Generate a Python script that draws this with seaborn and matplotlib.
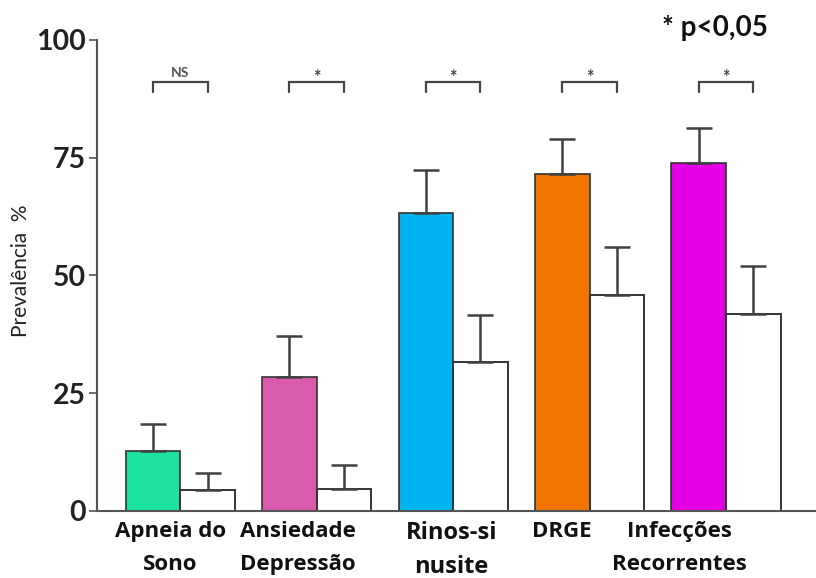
import pandas as pd
import matplotlib.pyplot as plt
import seaborn as sns
from matplotlib.transforms import ScaledTranslation

# dados (prevalência %)
categorias = ['Apneia do\nSono', 'Ansiedade\nDepressão', 'Rinos-si\nnusite', 'DRGE', 'Infecções\nRecorrentes']
grupos = ['Doentes', 'Controles']
prev_doentes = [12.8, 28.5, 63.2, 71.5, 73.9]
prev_controles = [4.5, 4.7, 31.6, 45.9, 41.8]
erro_doentes = [5.6, 8.7, 9.2, 7.4, 7.3]
erro_controles = [3.6, 5.0, 10.0, 10.2, 10.2]
significancia = ['NS', '*', '*', '*', '*']
cores = ['#1ee3a0', '#da5aae', '#00b4f0', '#f07400', '#e400e4']

df = pd.DataFrame({
    'categoria': categorias * 2,
    'grupo': [grupos[0]] * 5 + [grupos[1]] * 5,
    'valor': prev_doentes + prev_controles,
})

sns.set_theme(style='white')
plt.rcParams['font.family'] = ['Lato', 'DejaVu Sans']

fig = plt.figure(figsize=(8.16, 5.78), dpi=100)
ax = fig.add_axes([0.119, 0.116, 0.881, 0.815])

sns.barplot(data=df, x='categoria', y='valor', hue='grupo', order=categorias,
            hue_order=grupos, palette=['#888888', 'white'], errorbar=None,
            width=0.8, legend=False, ax=ax, zorder=2)

# cores individuais dos doentes
for barra, cor in zip(ax.containers[0], cores):
    barra.set_facecolor(cor)
    barra.set_edgecolor('#333333')
    barra.set_linewidth(1.2)
for barra in ax.containers[1]:
    barra.set_edgecolor('#333333')
    barra.set_linewidth(1.4)

# barras de erro (só para cima)
for cont, err in zip(ax.containers, [erro_doentes, erro_controles]):
    xs = [b.get_x() + b.get_width() / 2 for b in cont]
    hs = [b.get_height() for b in cont]
    ax.errorbar(xs, hs, yerr=[[0] * len(err), err], fmt='none',
                ecolor='#404040', elinewidth=1.8, capsize=9.5,
                capthick=1.8, zorder=3)

# colchetes de significância
for b0, b1, sig in zip(ax.containers[0], ax.containers[1], significancia):
    x0 = b0.get_x() + b0.get_width() / 2
    x1 = b1.get_x() + b1.get_width() / 2
    ax.plot([x0, x0, x1, x1], [89, 91, 91, 89], color='#444444', lw=1.6,
            solid_joinstyle='miter', zorder=3)
    if sig == 'NS':
        ax.text((x0 + x1) / 2, 91.6, sig, ha='center', va='bottom',
                fontsize=10, fontweight='bold', color='#555555')
    else:
        ax.text((x0 + x1) / 2, 90.2, sig, ha='center', va='bottom',
                fontsize=13, fontweight='bold', color='#444444')

ax.set_ylim(0, 100)
ax.set_xlim(-0.61, 4.66)
ax.set_yticks([0, 25, 50, 75, 100])
ax.set_xlabel('')
ax.set_ylabel('Prevalência  %', fontsize=15, color='#222222')
ax.yaxis.set_label_coords(-0.092, 0.51)

sns.despine(ax=ax)
for lado in ['left', 'bottom']:
    ax.spines[lado].set_color('#555555')
    ax.spines[lado].set_linewidth(1.5)

ax.tick_params(axis='y', left=True, length=6, width=1.2, color='#555555',
               labelsize=20.5, labelcolor='#222222', pad=2)
for t in ax.get_yticklabels():
    t.set_fontweight('bold')
ax.tick_params(axis='x', bottom=False, labelsize=16, labelcolor='#111111', pad=1)

deslocs = [-10, -19, -2, -28, -47]
for t, dx in zip(ax.get_xticklabels(), deslocs):
    t.set_linespacing(1.75)
    t.set_fontfamily(['Open Sans', 'DejaVu Sans'])
    t.set_fontweight('bold')
    t.set_transform(t.get_transform() + ScaledTranslation(dx / 100, 0, fig.dpi_scale_trans))
    if t.get_text().startswith('Rinos'):
        t.set_fontsize(17)
        t.set_linespacing(1.55)

fig.text(715 / 816, 1 - 28 / 578, '* p<0,05', ha='center', va='center',
         fontsize=20, fontweight='bold', color='#111111')

fig.savefig('out.png', dpi=100)
